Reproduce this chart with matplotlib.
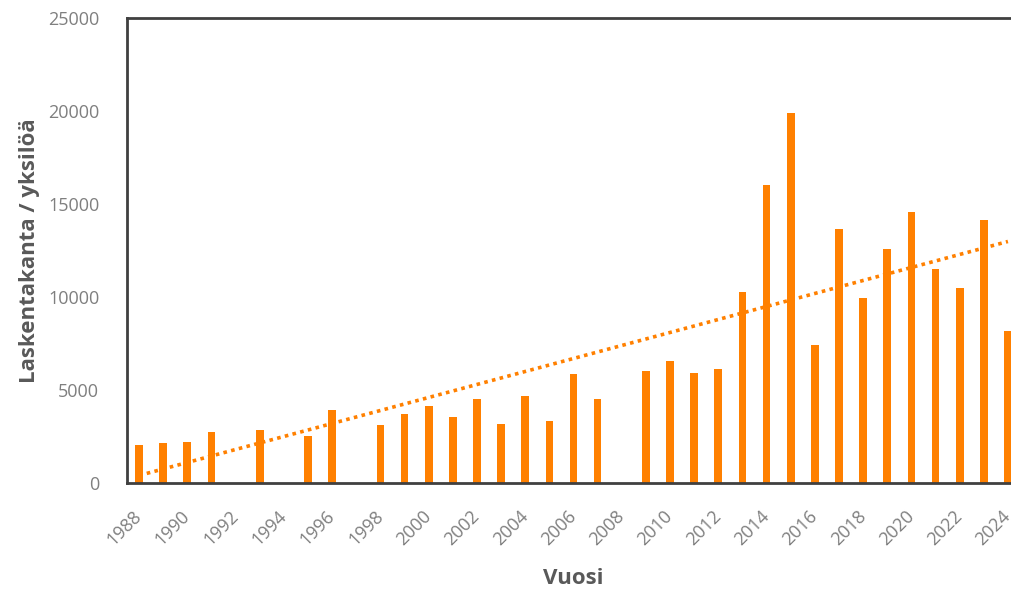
import matplotlib

matplotlib.use("Agg")

import matplotlib.pyplot as plt
import numpy as np

# Vuosittaiset laskentatulokset (puuttuvat vuodet = None)
years = list(range(1988, 2025))
counts = [
    2050, 2150, 2200, 2720, None, 2850, None, 2530, 3950, None,
    3120, 3700, 4140, 3570, 4520, 3190, 4700, 3350, 5850, 4520,
    None, 6040, 6560, 5900, 6110, 10290, 16030, 19890, 7420, 13680,
    9930, 12600, 14560, 11510, 10510, 14130, 8190,
]
tick_years = years[::2]

ORANGE = "#FF8000"
GREY = "#7F7F7F"
DARK = "#595959"
SPINE = "#404040"

plt.rcParams["font.family"] = ["Open Sans", "DejaVu Sans"]

fig = plt.figure(figsize=(10.12, 5.94), dpi=100)
ax = fig.add_axes([127 / 1012, 111 / 594, 893 / 1012, 465 / 594])

x = np.array([y for y, c in zip(years, counts) if c is not None], dtype=float)
v = np.array([c for c in counts if c is not None], dtype=float)

ax.bar(x, v, width=0.32, color=ORANGE, zorder=2)

# lineaarinen trendi
k, b = np.polyfit(x, v, 1)
xs = np.array([years[0], years[-1]], dtype=float)
ax.plot(xs, k * xs + b, color=ORANGE, linestyle=(0, (1, 1.2)), linewidth=2.6, zorder=3)

ax.set_xlim(years[0] - 0.5, years[-1] + 0.5)
ax.set_ylim(0, 25000)
ax.set_yticks(range(0, 25001, 5000))
ax.set_xticks(tick_years)
ax.set_xticklabels([str(t) for t in tick_years], rotation=45, ha="right",
                   va="center", rotation_mode="anchor")
ax.tick_params(axis="both", length=0, colors=GREY, labelsize=13)
ax.tick_params(axis="y", pad=20)
ax.tick_params(axis="x", pad=22)

for s in ax.spines.values():
    s.set_color(SPINE)
    s.set_linewidth(2)

ax.set_xlabel("Vuosi", fontsize=16, fontweight="bold", color=DARK, labelpad=14)
ax.set_ylabel("Laskentakanta / yksilöä", fontsize=16, fontweight="bold",
              color=DARK, labelpad=6)

fig.savefig("out.png", dpi=100)
